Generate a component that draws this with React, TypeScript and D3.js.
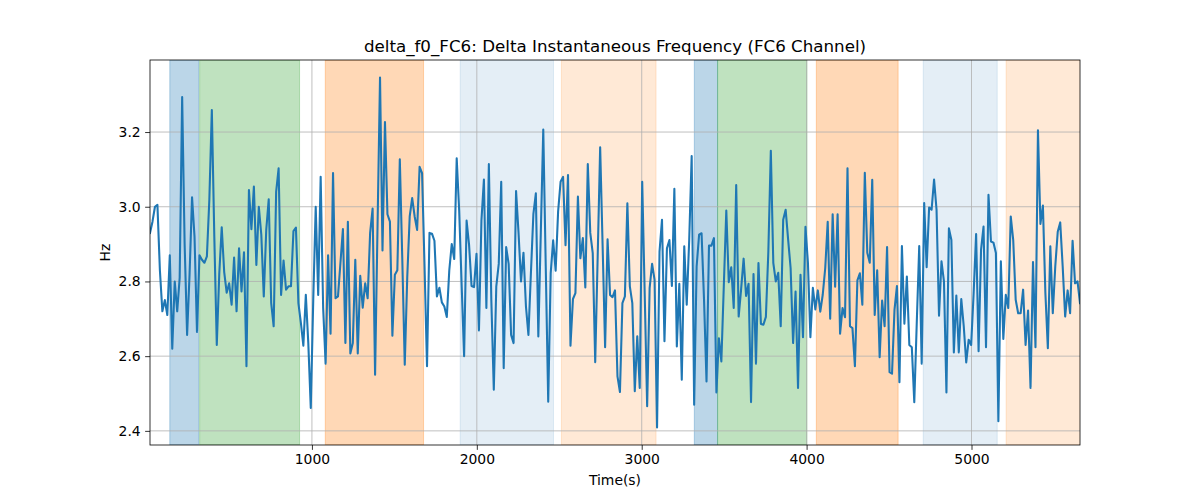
import * as d3 from 'd3'
import { useEffect, useRef } from 'react'

// sampled every 15 s starting at t = 18 s
const TIME_START = 18
const TIME_STEP = 15

const freqSegA = [
  2.93, 2.96, 3.0, 3.005, 2.83, 2.72, 2.75, 2.71, 2.87, 2.62,
  2.8, 2.72, 2.81, 3.294, 2.9, 2.657, 2.82, 3.025, 2.92, 2.665,
  2.87, 2.858, 2.85, 2.867, 3.02, 3.259, 2.92, 2.63, 2.82, 2.945,
  2.825, 2.77, 2.795, 2.738, 2.864, 2.72, 2.889, 2.773, 2.878, 2.573,
  3.045, 2.94, 3.054, 2.844, 3.0, 2.925, 2.76, 2.938, 3.02, 2.742,
  2.68, 3.04, 3.103, 2.764, 2.856, 2.778, 2.787, 2.787, 2.935, 2.944,
  2.742, 2.689, 2.628, 2.764, 2.635, 2.461,
]

const freqSegB = [
  2.75, 3.0, 2.764, 3.08, 2.73, 2.58, 2.87, 2.66, 3.09, 2.755,
  2.76, 2.85, 2.94, 2.635, 2.96, 2.607, 2.635, 2.858, 2.607, 2.815,
  2.73, 2.795, 2.755, 2.93, 2.995, 2.55, 2.95, 3.346, 2.883, 3.227,
  2.98, 2.96, 2.655, 2.818, 2.83, 3.127, 2.86, 2.577, 2.81, 2.974,
  3.023, 2.974, 2.938, 3.107, 3.09, 2.84, 2.573, 2.93, 2.928, 2.909,
  2.76, 2.783, 2.744, 2.733, 2.705, 2.83, 2.9, 2.86, 3.13, 2.99,
  2.79, 2.6,
]

const freqSegC = [
  2.963, 2.898, 2.788, 2.785, 2.874, 2.669, 2.963, 3.073, 2.729, 3.114,
  2.75, 2.51, 2.786, 2.847, 3.067, 2.568, 2.892, 2.847, 2.657, 2.635,
  3.042, 2.93, 2.8, 2.877, 2.733, 2.657, 2.822, 2.98, 3.036, 2.653,
  2.93, 3.207, 2.84, 2.478, 2.822, 2.91, 2.829, 2.987, 3.067, 3.08,
  2.897, 3.085, 2.628, 2.753, 2.769, 3.027, 2.862, 2.916, 2.784, 3.114,
  2.93, 2.876, 2.584, 2.867, 3.159, 2.894, 2.624, 2.913, 2.764, 2.758,
  2.776, 2.546, 2.504,
]

const freqSegD = [
  2.742, 2.76, 3.009, 2.787, 2.742, 2.506, 2.653, 2.515, 3.067, 2.77,
  2.466, 2.782, 2.847, 2.804, 2.409, 2.88, 2.965, 2.64, 2.889, 2.911,
  2.788, 3.048, 2.626, 2.794, 2.537, 2.894, 2.738, 2.91, 3.136, 2.47,
  2.84, 2.925, 2.929, 2.75, 2.532, 2.896, 2.896, 2.916, 2.503, 2.648,
  2.586, 2.79, 2.99, 2.798, 2.838, 2.729, 3.058, 2.706, 2.78, 2.861,
  2.761, 2.794, 2.477, 2.82, 2.58, 2.849, 2.686, 2.684, 2.705, 2.88,
  3.15, 2.85, 2.8,
]

const freqSegE = [
  2.823, 2.68, 2.965, 2.992, 2.912, 2.836, 2.635, 2.773, 2.515, 2.818,
  2.651, 2.946, 2.85, 2.651, 2.783, 2.725, 2.776, 2.719, 2.765, 2.836,
  2.96, 2.7, 2.98, 2.786, 2.98, 2.66, 2.729, 2.704, 3.103, 2.68,
  2.675, 2.573, 2.803, 2.822, 2.738, 3.091, 2.877, 2.85, 3.072, 2.71,
  2.83, 2.597, 2.749, 2.68, 2.892, 2.557, 2.553, 2.724, 2.788, 2.53,
  2.895, 2.687, 2.813, 2.63, 2.624, 2.477, 2.689, 2.895, 2.58, 3.01,
  2.838, 2.998,
]

const freqSegF = [
  2.992, 3.073, 2.992, 2.708, 2.854, 2.8, 2.503, 2.942, 2.911, 2.61,
  2.762, 2.61, 2.753, 2.68, 2.583, 2.644, 2.63, 2.769, 2.927, 2.613,
  2.885, 2.947, 2.624, 3.032, 2.907, 2.904, 2.876, 2.426, 2.854, 2.646,
  2.764, 2.729, 2.974, 2.911, 2.751, 2.715, 2.715, 2.778, 2.63, 2.722,
  2.515, 2.852, 2.624, 3.205, 2.954, 3.003, 2.77, 2.621, 2.894, 2.715,
  2.84, 2.933, 2.958, 2.84, 2.706, 2.776, 2.715, 2.909, 2.795, 2.8,
  2.742,
]

// shaded intervals (seconds)
const spanStart = [138, 319, 1081, 1899, 2513, 3319, 3460, 4059, 4707, 5210]
const spanEnd = [313, 925, 1677, 2465, 3087, 3460, 4002, 4555, 5156, 5700]
const spanKind = ['blue', 'green', 'orange', 'blueFaint', 'orangeFaint', 'blue', 'green', 'orange', 'blueFaint', 'orangeFaint']

const xTicks = [1000, 2000, 3000, 4000, 5000]
const yTicks = [2.4, 2.6, 2.8, 3.0, 3.2]

const kindStyle: Record<string, { color: string, alpha: number }> = {
  blue: { color: '#1f77b4', alpha: 0.3 },
  green: { color: '#2ca02c', alpha: 0.3 },
  orange: { color: '#ff7f0e', alpha: 0.3 },
  blueFaint: { color: '#1f77b4', alpha: 0.12 },
  orangeFaint: { color: '#ff7f0e', alpha: 0.17 },
}

export default function App() {
  const svgRef = useRef<SVGSVGElement | null>(null)

  useEffect(() => {
    if (!svgRef.current) return
    const svg = d3.select(svgRef.current)
    svg.selectAll('*').remove()

    const width = 1200
    const height = 500
    const margin = { top: 60, right: 120, bottom: 55, left: 150 }
    const innerWidth = width - margin.left - margin.right
    const innerHeight = height - margin.top - margin.bottom
    const font = 'DejaVu Sans, sans-serif'

    const freq = [...freqSegA, ...freqSegB, ...freqSegC, ...freqSegD, ...freqSegE, ...freqSegF]
    const data = freq.map((v, i) => ({ t: TIME_START + i * TIME_STEP, v }))

    const [vMin, vMax] = d3.extent(freq) as [number, number]
    const pad = (vMax - vMin) * 0.05

    const x = d3
      .scaleLinear()
      .domain([data[0].t, data[data.length - 1].t])
      .range([0, innerWidth])

    const y = d3
      .scaleLinear()
      .domain([vMin - pad, vMax + pad])
      .range([innerHeight, 0])

    svg.append('defs')
      .append('clipPath')
      .attr('id', 'plot-clip')
      .append('rect')
      .attr('width', innerWidth)
      .attr('height', innerHeight)

    const g = svg
      .append('g')
      .attr('transform', `translate(${margin.left},${margin.top})`)

    // spans
    g.append('g')
      .attr('clip-path', 'url(#plot-clip)')
      .selectAll('rect')
      .data(spanStart.map((s, i) => ({ s, e: spanEnd[i], k: spanKind[i] })))
      .join('rect')
      .attr('x', (d) => x(d.s))
      .attr('y', 0)
      .attr('width', (d) => x(d.e) - x(d.s))
      .attr('height', innerHeight)
      .attr('fill', (d) => kindStyle[d.k].color)
      .attr('fill-opacity', (d) => kindStyle[d.k].alpha)
      .attr('stroke', (d) => kindStyle[d.k].color)
      .attr('stroke-opacity', (d) => kindStyle[d.k].alpha)
      .attr('stroke-width', 1)

    // grid
    g.append('g')
      .selectAll('line')
      .data(xTicks)
      .join('line')
      .attr('x1', (d) => x(d))
      .attr('x2', (d) => x(d))
      .attr('y1', 0)
      .attr('y2', innerHeight)
      .attr('stroke', '#b0b0b0')
      .attr('stroke-width', 0.8)

    g.append('g')
      .selectAll('line')
      .data(yTicks)
      .join('line')
      .attr('x1', 0)
      .attr('x2', innerWidth)
      .attr('y1', (d) => y(d))
      .attr('y2', (d) => y(d))
      .attr('stroke', '#b0b0b0')
      .attr('stroke-width', 0.8)

    // signal
    const line = d3
      .line<{ t: number, v: number }>()
      .x((d) => x(d.t))
      .y((d) => y(d.v))

    g.append('path')
      .datum(data)
      .attr('clip-path', 'url(#plot-clip)')
      .attr('fill', 'none')
      .attr('stroke', '#1f77b4')
      .attr('stroke-width', 2.08)
      .attr('stroke-linejoin', 'round')
      .attr('stroke-linecap', 'square')
      .attr('d', line)

    // axes
    const xAxis = g.append('g')
      .attr('transform', `translate(0,${innerHeight})`)
      .call(d3.axisBottom(x).tickValues(xTicks).tickFormat(d3.format('d')).tickSize(4.86).tickPadding(4.5))
    const yAxis = g.append('g')
      .call(d3.axisLeft(y).tickValues(yTicks).tickFormat(d3.format('.1f')).tickSize(4.86).tickPadding(4.5))

    for (const ax of [xAxis, yAxis]) {
      ax.select('.domain').remove()
      ax.selectAll('line').attr('stroke', '#000').attr('stroke-width', 0.8)
      ax.selectAll('text')
        .style('font-size', '13.9px')
        .style('font-family', font)
        .attr('fill', '#000')
    }

    g.append('rect')
      .attr('width', innerWidth)
      .attr('height', innerHeight)
      .attr('fill', 'none')
      .attr('stroke', '#000')
      .attr('stroke-width', 0.8)

    // labels
    svg.append('text')
      .attr('x', margin.left + innerWidth / 2)
      .attr('y', 52)
      .attr('text-anchor', 'middle')
      .style('font-family', font)
      .style('font-size', '16.7px')
      .text('delta_f0_FC6: Delta Instantaneous Frequency (FC6 Channel)')

    svg.append('text')
      .attr('x', margin.left + innerWidth / 2)
      .attr('y', 485)
      .attr('text-anchor', 'middle')
      .style('font-family', font)
      .style('font-size', '13.9px')
      .text('Time(s)')

    svg.append('text')
      .attr('transform', `translate(110,${margin.top + innerHeight / 2}) rotate(-90)`)
      .attr('text-anchor', 'middle')
      .style('font-family', font)
      .style('font-size', '13.9px')
      .text('Hz')
  }, [])

  return (
    <svg
      ref={svgRef}
      width={1200}
      height={500}
      style={{ position: 'absolute', left: 0, top: 0, background: '#fff' }}
    />
  )
}
